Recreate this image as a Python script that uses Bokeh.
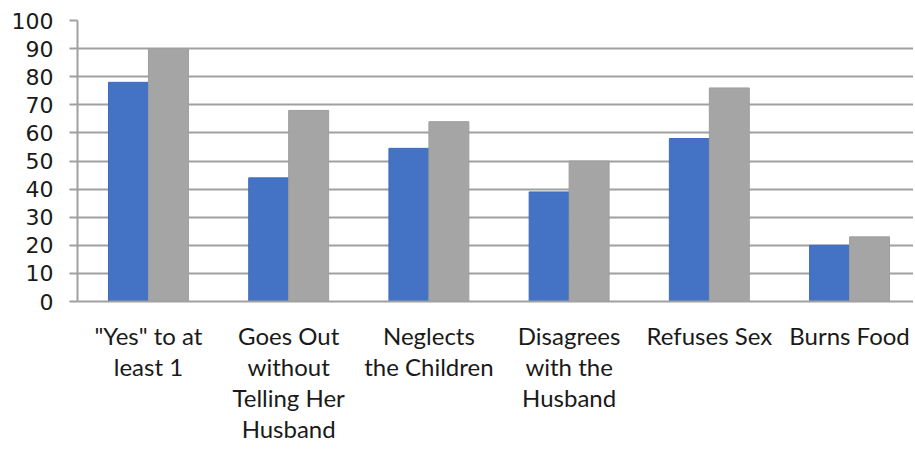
from bokeh.plotting import figure
from bokeh.models import FixedTicker, Range1d
from bokeh.embed import file_html
from bokeh.resources import INLINE

categories = ["\"Yes\" to at\nleast 1", "Goes Out\nwithout\nTelling Her\nHusband", "Neglects\nthe Children",
              "Disagrees\nwith the\nHusband", "Refuses Sex", "Burns Food"]
series_blue = [78, 44, 54.5, 39, 58, 20]
series_gray = [90, 68, 64, 50, 76, 23]
y_ticks = [0, 10, 20, 30, 40, 50, 60, 70, 80, 90, 100]

idx = list(range(len(categories)))
bw = 0.285

p = figure(frame_width=836, frame_height=281, output_backend="svg", toolbar_location=None,
           x_range=Range1d(-0.506, 5.456), y_range=Range1d(0, 100),
           min_border_left=77, min_border_right=0, min_border_top=20, min_border_bottom=0)
p.outline_line_color = None

p.vbar(x=[i - bw / 2 for i in idx], top=series_blue, width=bw, bottom=0,
       fill_color="#4472C4", line_color="#3F6BBA", line_width=1)
p.vbar(x=[i + bw / 2 for i in idx], top=series_gray, width=bw, bottom=0,
       fill_color="#A5A5A5", line_color="#9E9E9E", line_width=1)

p.xgrid.visible = False
p.ygrid.ticker = FixedTicker(ticks=y_ticks)
p.ygrid.grid_line_color = "#A0A0A0"
p.ygrid.grid_line_width = 2

p.yaxis.ticker = FixedTicker(ticks=y_ticks)
p.yaxis.axis_line_color = "#A0A0A0"
p.yaxis.axis_line_width = 2
p.yaxis.major_tick_line_color = "#A0A0A0"
p.yaxis.major_tick_line_width = 2
p.yaxis.major_tick_out = 8
p.yaxis.major_tick_in = 0
p.yaxis.minor_tick_line_color = None
p.yaxis.major_label_text_font = "DejaVu Sans"
p.yaxis.major_label_text_font_size = "22px"
p.yaxis.major_label_text_color = "#1a1a1a"
p.yaxis.major_label_standoff = 16

p.xaxis.ticker = FixedTicker(ticks=idx)
p.xaxis.major_label_overrides = {i: c for i, c in zip(idx, categories)}
p.xaxis.axis_line_color = "#A0A0A0"
p.xaxis.axis_line_width = 2
p.xaxis.major_tick_line_color = None
p.xaxis.minor_tick_line_color = None
p.xaxis.major_label_text_font = "Lato"
p.xaxis.major_label_text_font_size = "24px"
p.xaxis.major_label_text_color = "#1a1a1a"
p.xaxis.major_label_text_line_height = 1.08
p.xaxis.major_label_standoff = 13

open("out.html", "w").write(file_html(p, INLINE))
